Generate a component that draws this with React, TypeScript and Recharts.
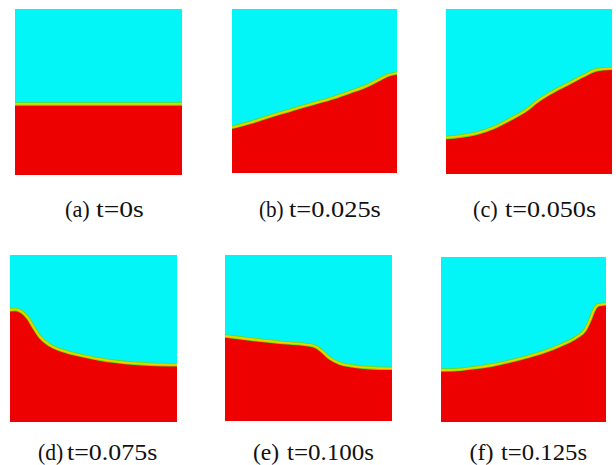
import React from "react";
import { ComposedChart, Area, Line, XAxis, YAxis } from "recharts";

// x position across the tank (0..1) and liquid height (0..1) for each snapshot
const panelA = [
  { x: 0, h: 0.428 },
  { x: 1, h: 0.428 },
];
const panelB = [
  { x: 0, h: 0.278 },
  { x: 0.111, h: 0.308 },
  { x: 0.212, h: 0.341 },
  { x: 0.313, h: 0.371 },
  { x: 0.414, h: 0.402 },
  { x: 0.515, h: 0.43 },
  { x: 0.616, h: 0.46 },
  { x: 0.717, h: 0.495 },
  { x: 0.818, h: 0.533 },
  { x: 0.899, h: 0.574 },
  { x: 0.949, h: 0.598 },
  { x: 1, h: 0.609 },
];
const panelC = [
  { x: 0, h: 0.221 },
  { x: 0.084, h: 0.229 },
  { x: 0.185, h: 0.247 },
  { x: 0.285, h: 0.281 },
  { x: 0.386, h: 0.332 },
  { x: 0.486, h: 0.39 },
  { x: 0.546, h: 0.438 },
  { x: 0.627, h: 0.49 },
  { x: 0.727, h: 0.543 },
  { x: 0.827, h: 0.595 },
  { x: 0.908, h: 0.632 },
  { x: 1, h: 0.64 },
];
const panelD = [
  { x: 0, h: 0.672 },
  { x: 0.03, h: 0.674 },
  { x: 0.07, h: 0.66 },
  { x: 0.11, h: 0.62 },
  { x: 0.14, h: 0.57 },
  { x: 0.18, h: 0.51 },
  { x: 0.24, h: 0.46 },
  { x: 0.34, h: 0.42 },
  { x: 0.44, h: 0.396 },
  { x: 0.54, h: 0.376 },
  { x: 0.64, h: 0.362 },
  { x: 0.74, h: 0.352 },
  { x: 0.84, h: 0.346 },
  { x: 1, h: 0.342 },
];
const panelE = [
  { x: 0, h: 0.512 },
  { x: 0.148, h: 0.494 },
  { x: 0.348, h: 0.472 },
  { x: 0.508, h: 0.458 },
  { x: 0.548, h: 0.446 },
  { x: 0.588, h: 0.414 },
  { x: 0.628, h: 0.378 },
  { x: 0.688, h: 0.347 },
  { x: 0.768, h: 0.331 },
  { x: 0.868, h: 0.321 },
  { x: 1, h: 0.317 },
];
const panelF = [
  { x: 0, h: 0.315 },
  { x: 0.117, h: 0.319 },
  { x: 0.218, h: 0.331 },
  { x: 0.319, h: 0.347 },
  { x: 0.419, h: 0.369 },
  { x: 0.52, h: 0.395 },
  { x: 0.621, h: 0.425 },
  { x: 0.722, h: 0.464 },
  { x: 0.823, h: 0.516 },
  { x: 0.873, h: 0.558 },
  { x: 0.903, h: 0.619 },
  { x: 0.927, h: 0.679 },
  { x: 0.954, h: 0.71 },
  { x: 1, h: 0.716 },
];

const letters = ["(a)", "(b)", "(c)", "(d)", "(e)", "(f)"];
const times = ["t=0s", "t=0.025s", "t=0.050s", "t=0.075s", "t=0.100s", "t=0.125s"];
const datasets = [panelA, panelB, panelC, panelD, panelE, panelF];

// layout: [left, top, width, height]
const boxes = [
  [15, 9, 167, 166],
  [232, 9, 165, 164],
  [446, 9, 166, 165],
  [10, 255, 167, 167],
  [225, 255, 167, 166],
  [441, 257, 165, 165],
];
// caption layout: [x1, sx1, x2, sx2, baseline]
const captions = [
  [64.5, 0.93, 96, 1.15, 217],
  [258.5, 0.88, 288.5, 1.1, 217],
  [472.5, 0.93, 504.5, 1.09, 217],
  [37.5, 0.9, 67, 1.08, 460],
  [252.5, 0.98, 286.5, 1.04, 460],
  [469.5, 1.0, 501, 1.03, 460],
];

const CYAN = "#02f6f7";
const RED = "#ee0101";
const GREEN = "#62dc08";
const YELLOW = "#f2cf00";

function Panel({ data, box }: { data: { x: number; h: number }[]; box: number[] }) {
  const [left, top, w, h] = box;
  return (
    <div style={{ position: "absolute", left, top, width: w, height: h, background: CYAN }}>
      <ComposedChart width={w} height={h} data={data} margin={{ top: 0, right: 0, bottom: 0, left: 0 }}>
        <XAxis dataKey="x" type="number" domain={[0, 1]} hide />
        <YAxis type="number" domain={[0, 1]} hide />
        <Line
          dataKey="h"
          type="monotone"
          stroke={GREEN}
          strokeWidth={3.4}
          dot={false}
          activeDot={false}
          isAnimationActive={false}
        />
        <Line
          dataKey="h"
          type="monotone"
          stroke={YELLOW}
          strokeWidth={1.8}
          dot={false}
          activeDot={false}
          isAnimationActive={false}
        />
        <Area
          dataKey="h"
          type="monotone"
          stroke="none"
          fill={RED}
          fillOpacity={1}
          baseValue={0}
          activeDot={false}
          isAnimationActive={false}
        />
      </ComposedChart>
    </div>
  );
}

function Caption({ text, x, sx, baseline }: { text: string; x: number; sx: number; baseline: number }) {
  return (
    <div
      style={{
        position: "absolute",
        left: x,
        top: baseline - 20.1,
        fontFamily: '"Liberation Serif"',
        fontSize: 24,
        lineHeight: "24px",
        whiteSpace: "nowrap",
        color: "#111",
        transform: `scaleX(${sx})`,
        transformOrigin: "0 0",
      }}
    >
      {text}
    </div>
  );
}

export default function App() {
  return (
    <div style={{ position: "absolute", left: 0, top: 0, width: 616, height: 465, background: "#fff", overflow: "hidden" }}>
      {datasets.map((d, i) => (
        <Panel key={i} data={d} box={boxes[i]} />
      ))}
      {captions.map((c, i) => (
        <React.Fragment key={i}>
          <Caption text={letters[i]} x={c[0]} sx={c[1]} baseline={c[4]} />
          <Caption text={times[i]} x={c[2]} sx={c[3]} baseline={c[4]} />
        </React.Fragment>
      ))}
    </div>
  );
}
